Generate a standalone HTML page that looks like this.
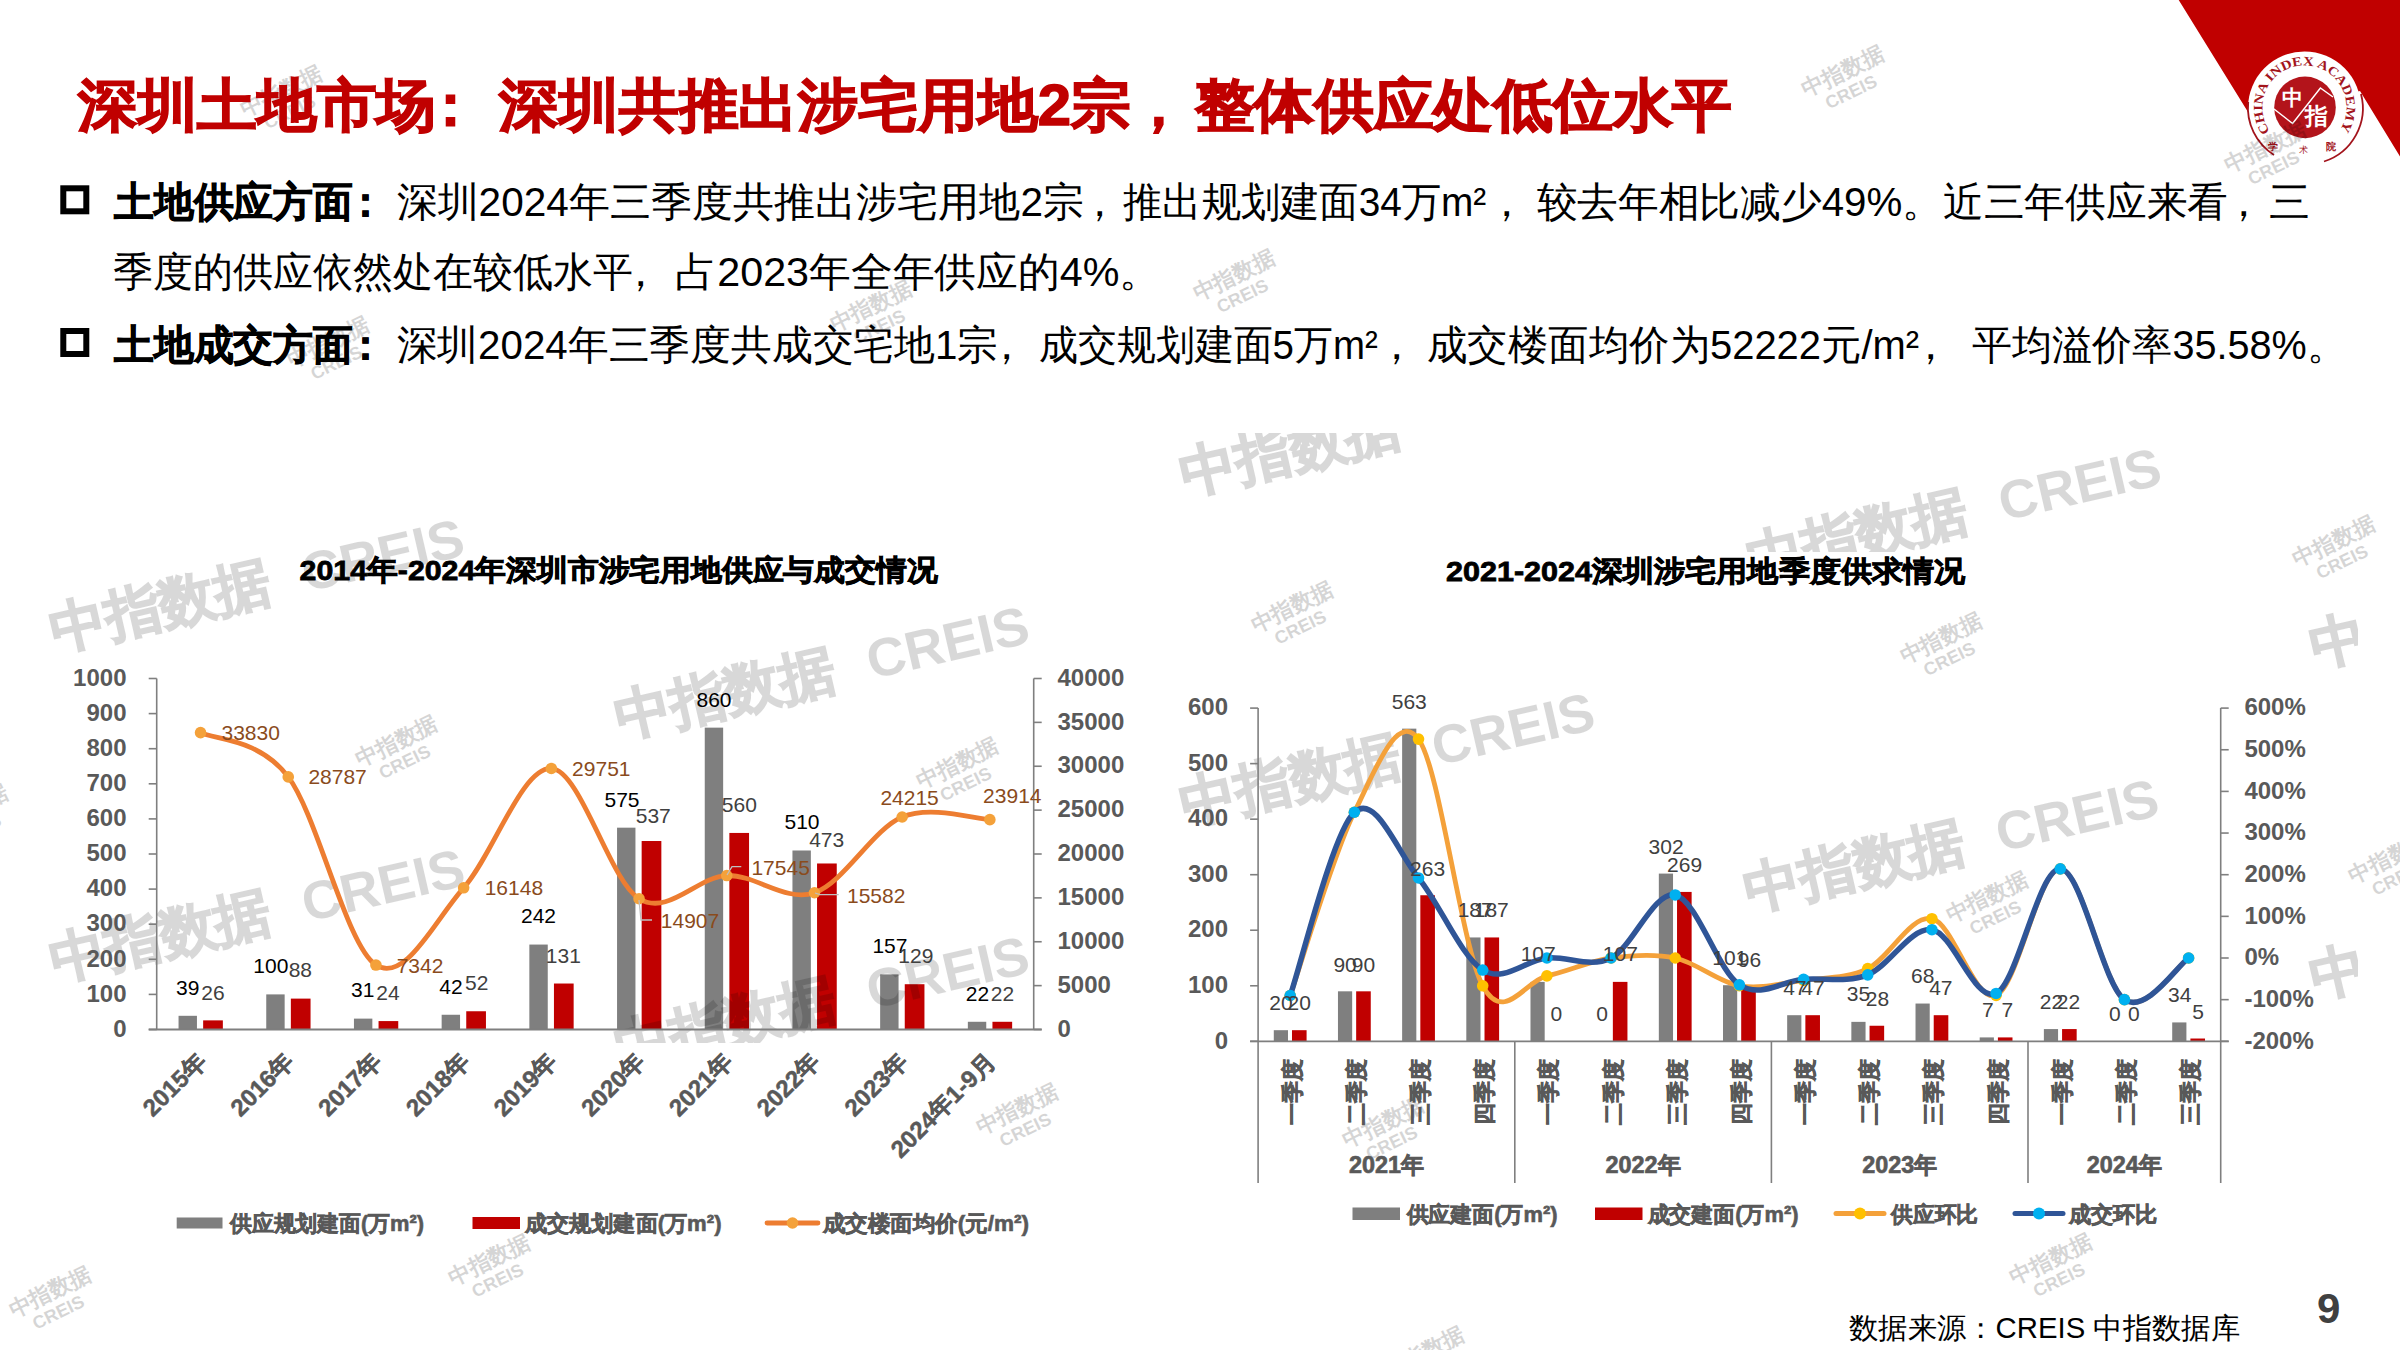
<!DOCTYPE html><html><head><meta charset="utf-8"><style>html,body{margin:0;padding:0;background:#fff;overflow:hidden;width:2400px;height:1350px;}svg{display:block;}</style></head><body><svg width="2400" height="1350" viewBox="0 0 2400 1350" font-family='"Liberation Sans", sans-serif'>
<defs><clipPath id="wmclip"><rect x="0" y="433" width="2358" height="610"/></clipPath></defs>
<rect width="2400" height="1350" fill="#fff"/>
<polygon points="2178.7,0 2400,0 2400,156.5 2360,91 2304,107 2252,118.5" fill="#C00000"/>
<circle cx="2304.5" cy="108" r="56.5" fill="#fff"/>
<path d="M2248.2,102 A56,56 0 0 0 2274,155" fill="none" stroke="#A3141C" stroke-width="1.8"/>
<path d="M2324,161.5 A56,56 0 0 0 2361,94" fill="none" stroke="#A3141C" stroke-width="1.8"/>
<circle cx="2305" cy="107.4" r="30.8" fill="#B3141B"/>
<polyline points="2274,109 2292.6,123.5 2320.4,88 2333,97" fill="none" stroke="#fff" stroke-width="1.5"/>
<text x="2282" y="105" font-size="21" fill="#fff" font-weight="bold">中</text>
<text x="2305" y="124" font-size="23" fill="#fff" font-weight="bold">指</text>
<defs><path id="arcp" d="M2270.1,131.6 A42,42 0 1 1 2338.9,131.6"/></defs>
<text font-size="13" fill="#A3141C" font-family="Liberation Serif" font-weight="bold"><textPath href="#arcp" textLength="181" lengthAdjust="spacingAndGlyphs">CHINA INDEX ACADEMY</textPath></text>
<text x="2268" y="150" font-size="10" fill="#A3141C" font-weight="bold">学</text><text x="2299" y="153" font-size="9" fill="#A3141C">术</text><text x="2326" y="150" font-size="10" fill="#A3141C" font-weight="bold">院</text>
<g transform="translate(245.0,117.3) rotate(-26)" opacity="0.16"><text x="0" y="0" font-size="22" font-weight="bold" fill="#000">中指数据</text><text x="15" y="21" font-size="18" font-weight="bold" fill="#000" font-family="Liberation Sans">CREIS</text></g>
<g transform="translate(1806.4,97.3) rotate(-26)" opacity="0.16"><text x="0" y="0" font-size="22" font-weight="bold" fill="#000">中指数据</text><text x="15" y="21" font-size="18" font-weight="bold" fill="#000" font-family="Liberation Sans">CREIS</text></g>
<g transform="translate(2229.0,173.1) rotate(-26)" opacity="0.16"><text x="0" y="0" font-size="22" font-weight="bold" fill="#000">中指数据</text><text x="15" y="21" font-size="18" font-weight="bold" fill="#000" font-family="Liberation Sans">CREIS</text></g>
<g transform="translate(1197.7,301.3) rotate(-26)" opacity="0.16"><text x="0" y="0" font-size="22" font-weight="bold" fill="#000">中指数据</text><text x="15" y="21" font-size="18" font-weight="bold" fill="#000" font-family="Liberation Sans">CREIS</text></g>
<g transform="translate(834.6,331.9) rotate(-26)" opacity="0.16"><text x="0" y="0" font-size="22" font-weight="bold" fill="#000">中指数据</text><text x="15" y="21" font-size="18" font-weight="bold" fill="#000" font-family="Liberation Sans">CREIS</text></g>
<g transform="translate(291.7,368.0) rotate(-26)" opacity="0.16"><text x="0" y="0" font-size="22" font-weight="bold" fill="#000">中指数据</text><text x="15" y="21" font-size="18" font-weight="bold" fill="#000" font-family="Liberation Sans">CREIS</text></g>
<g transform="translate(1255.6,632.6) rotate(-26)" opacity="0.16"><text x="0" y="0" font-size="22" font-weight="bold" fill="#000">中指数据</text><text x="15" y="21" font-size="18" font-weight="bold" fill="#000" font-family="Liberation Sans">CREIS</text></g>
<g transform="translate(1904.6,664.2) rotate(-26)" opacity="0.16"><text x="0" y="0" font-size="22" font-weight="bold" fill="#000">中指数据</text><text x="15" y="21" font-size="18" font-weight="bold" fill="#000" font-family="Liberation Sans">CREIS</text></g>
<g transform="translate(2297.3,567.2) rotate(-26)" opacity="0.16"><text x="0" y="0" font-size="22" font-weight="bold" fill="#000">中指数据</text><text x="15" y="21" font-size="18" font-weight="bold" fill="#000" font-family="Liberation Sans">CREIS</text></g>
<g transform="translate(360.0,767.3) rotate(-26)" opacity="0.16"><text x="0" y="0" font-size="22" font-weight="bold" fill="#000">中指数据</text><text x="15" y="21" font-size="18" font-weight="bold" fill="#000" font-family="Liberation Sans">CREIS</text></g>
<g transform="translate(921.0,789.4) rotate(-26)" opacity="0.16"><text x="0" y="0" font-size="22" font-weight="bold" fill="#000">中指数据</text><text x="15" y="21" font-size="18" font-weight="bold" fill="#000" font-family="Liberation Sans">CREIS</text></g>
<g transform="translate(1950.6,922.8) rotate(-26)" opacity="0.16"><text x="0" y="0" font-size="22" font-weight="bold" fill="#000">中指数据</text><text x="15" y="21" font-size="18" font-weight="bold" fill="#000" font-family="Liberation Sans">CREIS</text></g>
<g transform="translate(1347.0,1148.3) rotate(-26)" opacity="0.16"><text x="0" y="0" font-size="22" font-weight="bold" fill="#000">中指数据</text><text x="15" y="21" font-size="18" font-weight="bold" fill="#000" font-family="Liberation Sans">CREIS</text></g>
<g transform="translate(980.6,1135.0) rotate(-26)" opacity="0.16"><text x="0" y="0" font-size="22" font-weight="bold" fill="#000">中指数据</text><text x="15" y="21" font-size="18" font-weight="bold" fill="#000" font-family="Liberation Sans">CREIS</text></g>
<g transform="translate(2353.0,883.7) rotate(-26)" opacity="0.16"><text x="0" y="0" font-size="22" font-weight="bold" fill="#000">中指数据</text><text x="15" y="21" font-size="18" font-weight="bold" fill="#000" font-family="Liberation Sans">CREIS</text></g>
<g transform="translate(452.9,1285.7) rotate(-26)" opacity="0.16"><text x="0" y="0" font-size="22" font-weight="bold" fill="#000">中指数据</text><text x="15" y="21" font-size="18" font-weight="bold" fill="#000" font-family="Liberation Sans">CREIS</text></g>
<g transform="translate(13.6,1317.6) rotate(-26)" opacity="0.16"><text x="0" y="0" font-size="22" font-weight="bold" fill="#000">中指数据</text><text x="15" y="21" font-size="18" font-weight="bold" fill="#000" font-family="Liberation Sans">CREIS</text></g>
<g transform="translate(2014.3,1285.3) rotate(-26)" opacity="0.16"><text x="0" y="0" font-size="22" font-weight="bold" fill="#000">中指数据</text><text x="15" y="21" font-size="18" font-weight="bold" fill="#000" font-family="Liberation Sans">CREIS</text></g>
<g transform="translate(1387.0,1378.3) rotate(-26)" opacity="0.16"><text x="0" y="0" font-size="22" font-weight="bold" fill="#000">中指数据</text><text x="15" y="21" font-size="18" font-weight="bold" fill="#000" font-family="Liberation Sans">CREIS</text></g>
<g transform="translate(-69.4,836.3) rotate(-26)" opacity="0.16"><text x="0" y="0" font-size="22" font-weight="bold" fill="#000">中指数据</text><text x="15" y="21" font-size="18" font-weight="bold" fill="#000" font-family="Liberation Sans">CREIS</text></g>
<rect x="178.55" y="1015.81" width="18.4" height="13.69" fill="#7F7F7F"/>
<rect x="203.15" y="1020.37" width="19.7" height="9.13" fill="#C00000"/>
<rect x="266.25" y="994.40" width="18.4" height="35.10" fill="#7F7F7F"/>
<rect x="290.85" y="998.61" width="19.7" height="30.89" fill="#C00000"/>
<rect x="353.95" y="1018.62" width="18.4" height="10.88" fill="#7F7F7F"/>
<rect x="378.55" y="1021.08" width="19.7" height="8.42" fill="#C00000"/>
<rect x="441.65" y="1014.76" width="18.4" height="14.74" fill="#7F7F7F"/>
<rect x="466.25" y="1011.25" width="19.7" height="18.25" fill="#C00000"/>
<rect x="529.35" y="944.56" width="18.4" height="84.94" fill="#7F7F7F"/>
<rect x="553.95" y="983.52" width="19.7" height="45.98" fill="#C00000"/>
<rect x="617.05" y="827.67" width="18.4" height="201.83" fill="#7F7F7F"/>
<rect x="641.65" y="841.01" width="19.7" height="188.49" fill="#C00000"/>
<rect x="704.75" y="727.64" width="18.4" height="301.86" fill="#7F7F7F"/>
<rect x="729.35" y="832.94" width="19.7" height="196.56" fill="#C00000"/>
<rect x="792.45" y="850.49" width="18.4" height="179.01" fill="#7F7F7F"/>
<rect x="817.05" y="863.48" width="19.7" height="166.02" fill="#C00000"/>
<rect x="880.15" y="974.39" width="18.4" height="55.11" fill="#7F7F7F"/>
<rect x="904.75" y="984.22" width="19.7" height="45.28" fill="#C00000"/>
<rect x="967.85" y="1021.78" width="18.4" height="7.72" fill="#7F7F7F"/>
<rect x="992.45" y="1021.78" width="19.7" height="7.72" fill="#C00000"/>
<rect x="1273.79" y="1030.19" width="14.2" height="11.11" fill="#7F7F7F"/>
<rect x="1291.99" y="1030.19" width="14.6" height="11.11" fill="#C00000"/>
<rect x="1337.96" y="991.32" width="14.2" height="49.98" fill="#7F7F7F"/>
<rect x="1356.16" y="991.32" width="14.6" height="49.98" fill="#C00000"/>
<rect x="1402.13" y="728.65" width="14.2" height="312.65" fill="#7F7F7F"/>
<rect x="1420.33" y="895.25" width="14.6" height="146.05" fill="#C00000"/>
<rect x="1466.31" y="937.45" width="14.2" height="103.85" fill="#7F7F7F"/>
<rect x="1484.51" y="937.45" width="14.6" height="103.85" fill="#C00000"/>
<rect x="1530.48" y="981.88" width="14.2" height="59.42" fill="#7F7F7F"/>
<rect x="1612.85" y="981.88" width="14.6" height="59.42" fill="#C00000"/>
<rect x="1658.83" y="873.59" width="14.2" height="167.71" fill="#7F7F7F"/>
<rect x="1677.03" y="891.92" width="14.6" height="149.38" fill="#C00000"/>
<rect x="1723.00" y="985.21" width="14.2" height="56.09" fill="#7F7F7F"/>
<rect x="1741.20" y="987.99" width="14.6" height="53.31" fill="#C00000"/>
<rect x="1787.17" y="1015.20" width="14.2" height="26.10" fill="#7F7F7F"/>
<rect x="1805.37" y="1015.20" width="14.6" height="26.10" fill="#C00000"/>
<rect x="1851.35" y="1021.86" width="14.2" height="19.44" fill="#7F7F7F"/>
<rect x="1869.55" y="1025.75" width="14.6" height="15.55" fill="#C00000"/>
<rect x="1915.52" y="1003.54" width="14.2" height="37.76" fill="#7F7F7F"/>
<rect x="1933.72" y="1015.20" width="14.6" height="26.10" fill="#C00000"/>
<rect x="1979.69" y="1037.41" width="14.2" height="3.89" fill="#7F7F7F"/>
<rect x="1997.89" y="1037.41" width="14.6" height="3.89" fill="#C00000"/>
<rect x="2043.87" y="1029.08" width="14.2" height="12.22" fill="#7F7F7F"/>
<rect x="2062.07" y="1029.08" width="14.6" height="12.22" fill="#C00000"/>
<rect x="2172.21" y="1022.42" width="14.2" height="18.88" fill="#7F7F7F"/>
<rect x="2190.41" y="1038.52" width="14.6" height="2.78" fill="#C00000"/>
<g clip-path="url(#wmclip)"><g transform="translate(55,650) rotate(-13)" opacity="0.15"><text x="0" y="0" font-size="56" font-weight="bold" fill="#000" stroke="#000" stroke-width="1.6">中指数据</text><text x="258" y="0" font-size="54" font-weight="bold" fill="#000" font-family="Liberation Sans">CREIS</text></g></g>
<g clip-path="url(#wmclip)"><g transform="translate(620,737.3) rotate(-13)" opacity="0.15"><text x="0" y="0" font-size="56" font-weight="bold" fill="#000" stroke="#000" stroke-width="1.6">中指数据</text><text x="258" y="0" font-size="54" font-weight="bold" fill="#000" font-family="Liberation Sans">CREIS</text></g></g>
<g clip-path="url(#wmclip)"><g transform="translate(55.4,980) rotate(-13)" opacity="0.15"><text x="0" y="0" font-size="56" font-weight="bold" fill="#000" stroke="#000" stroke-width="1.6">中指数据</text><text x="258" y="0" font-size="54" font-weight="bold" fill="#000" font-family="Liberation Sans">CREIS</text></g></g>
<g clip-path="url(#wmclip)"><g transform="translate(620,1067.2) rotate(-13)" opacity="0.15"><text x="0" y="0" font-size="56" font-weight="bold" fill="#000" stroke="#000" stroke-width="1.6">中指数据</text><text x="258" y="0" font-size="54" font-weight="bold" fill="#000" font-family="Liberation Sans">CREIS</text></g></g>
<g clip-path="url(#wmclip)"><g transform="translate(1185.4,493.7) rotate(-13)" opacity="0.15"><text x="0" y="0" font-size="56" font-weight="bold" fill="#000" stroke="#000" stroke-width="1.6">中指数据</text><text x="258" y="0" font-size="54" font-weight="bold" fill="#000" font-family="Liberation Sans">CREIS</text></g></g>
<g clip-path="url(#wmclip)"><g transform="translate(1185.4,823.7) rotate(-13)" opacity="0.15"><text x="0" y="0" font-size="56" font-weight="bold" fill="#000" stroke="#000" stroke-width="1.6">中指数据</text><text x="258" y="0" font-size="54" font-weight="bold" fill="#000" font-family="Liberation Sans">CREIS</text></g></g>
<g clip-path="url(#wmclip)"><g transform="translate(1752,579) rotate(-13)" opacity="0.15"><text x="0" y="0" font-size="56" font-weight="bold" fill="#000" stroke="#000" stroke-width="1.6">中指数据</text><text x="258" y="0" font-size="54" font-weight="bold" fill="#000" font-family="Liberation Sans">CREIS</text></g></g>
<g clip-path="url(#wmclip)"><g transform="translate(1749.4,910) rotate(-13)" opacity="0.15"><text x="0" y="0" font-size="56" font-weight="bold" fill="#000" stroke="#000" stroke-width="1.6">中指数据</text><text x="258" y="0" font-size="54" font-weight="bold" fill="#000" font-family="Liberation Sans">CREIS</text></g></g>
<g clip-path="url(#wmclip)"><g transform="translate(2314.7,666.3) rotate(-13)" opacity="0.15"><text x="0" y="0" font-size="56" font-weight="bold" fill="#000" stroke="#000" stroke-width="1.6">中指数据</text><text x="258" y="0" font-size="54" font-weight="bold" fill="#000" font-family="Liberation Sans">CREIS</text></g></g>
<g clip-path="url(#wmclip)"><g transform="translate(2314.7,997) rotate(-13)" opacity="0.15"><text x="0" y="0" font-size="56" font-weight="bold" fill="#000" stroke="#000" stroke-width="1.6">中指数据</text><text x="258" y="0" font-size="54" font-weight="bold" fill="#000" font-family="Liberation Sans">CREIS</text></g></g>
<text x="78" y="124.5" font-size="57" font-weight="bold" fill="#C00000" stroke="#C00000" stroke-width="1.4" lengthAdjust="spacingAndGlyphs" textLength="358">深圳土地市场</text>
<text x="421.5" y="124.5" font-size="57" font-weight="bold" fill="#C00000" stroke="#C00000" stroke-width="1.4" lengthAdjust="spacingAndGlyphs">：</text>
<text x="499" y="124.5" font-size="57" font-weight="bold" fill="#C00000" stroke="#C00000" stroke-width="1.4" lengthAdjust="spacingAndGlyphs" textLength="632">深圳共推出涉宅用地2宗</text>
<text x="1130" y="124.5" font-size="57" font-weight="bold" fill="#C00000" stroke="#C00000" stroke-width="1.4" lengthAdjust="spacingAndGlyphs">，</text>
<text x="1194.5" y="124.5" font-size="57" font-weight="bold" fill="#C00000" stroke="#C00000" stroke-width="1.4" lengthAdjust="spacingAndGlyphs" textLength="537.5">整体供应处低位水平</text>
<rect x="63.3" y="188.3" width="23" height="23" fill="none" stroke="#000" stroke-width="6"/>
<rect x="63.3" y="331" width="23" height="23" fill="none" stroke="#000" stroke-width="6"/>
<text x="114.00" y="216" font-size="40.5" fill="#000" font-weight="bold" stroke="#000" stroke-width="0.8" textLength="238.97" lengthAdjust="spacingAndGlyphs">土地供应方面</text>
<text x="345.10" y="216" font-size="40.5" fill="#000" font-weight="bold" stroke="#000" stroke-width="0.8">：</text>
<text x="396.50" y="216" font-size="40.5" fill="#000" textLength="687.63" lengthAdjust="spacingAndGlyphs">深圳2024年三季度共推出涉宅用地2宗</text>
<text x="1079.00" y="216" font-size="40.5" fill="#000">，</text>
<text x="1123.04" y="216" font-size="40.5" fill="#000" textLength="363.24" lengthAdjust="spacingAndGlyphs">推出规划建面34万m²</text>
<text x="1485.50" y="216" font-size="40.5" fill="#000">，</text>
<text x="1536.50" y="216" font-size="40.5" fill="#000" textLength="691.65" lengthAdjust="spacingAndGlyphs">较去年相比减少49%。近三年供应来看</text>
<text x="2222.50" y="216" font-size="40.5" fill="#000">，</text>
<text x="2268.80" y="216" font-size="40.5" fill="#000">三</text>
<text x="113.02" y="286" font-size="40.5" fill="#000" textLength="520.14" lengthAdjust="spacingAndGlyphs">季度的供应依然处在较低水平</text>
<text x="619.50" y="286" font-size="40.5" fill="#000">，</text>
<text x="675.46" y="286" font-size="40.5" fill="#000" textLength="485.82" lengthAdjust="spacingAndGlyphs">占2023年全年供应的4%。</text>
<text x="114.00" y="359" font-size="40.5" fill="#000" font-weight="bold" stroke="#000" stroke-width="0.8" textLength="238.97" lengthAdjust="spacingAndGlyphs">土地成交方面</text>
<text x="345.10" y="359" font-size="40.5" fill="#000" font-weight="bold" stroke="#000" stroke-width="0.8">：</text>
<text x="396.51" y="359" font-size="40.5" fill="#000" textLength="601.61" lengthAdjust="spacingAndGlyphs">深圳2024年三季度共成交宅地1宗</text>
<text x="986.00" y="359" font-size="40.5" fill="#000">，</text>
<text x="1039.10" y="359" font-size="40.5" fill="#000" textLength="338.62" lengthAdjust="spacingAndGlyphs">成交规划建面5万m²</text>
<text x="1376.00" y="359" font-size="40.5" fill="#000">，</text>
<text x="1427.03" y="359" font-size="40.5" fill="#000" textLength="492.07" lengthAdjust="spacingAndGlyphs">成交楼面均价为52222元/m²</text>
<text x="1909.80" y="359" font-size="40.5" fill="#000">，</text>
<text x="1972.02" y="359" font-size="40.5" fill="#000" textLength="374.92" lengthAdjust="spacingAndGlyphs">平均溢价率35.58%。</text>
<text x="299.60" y="580.00" font-size="28.5" fill="#000" font-weight="bold" text-anchor="start" stroke="#000" stroke-width="0.80" textLength="638.00" lengthAdjust="spacingAndGlyphs" >2014年-2024年深圳市涉宅用地供应与成交情况</text>
<line x1="156.7" y1="678.5" x2="156.7" y2="1029.5" stroke="#7F7F7F" stroke-width="1.6"/>
<line x1="1033.7" y1="678.5" x2="1033.7" y2="1029.5" stroke="#7F7F7F" stroke-width="1.6"/>
<line x1="148.7" y1="1029.5" x2="1041.7" y2="1029.5" stroke="#7F7F7F" stroke-width="1.8"/>
<line x1="148.7" y1="1029.50" x2="156.7" y2="1029.50" stroke="#7F7F7F" stroke-width="1.6"/>
<text x="126.50" y="1036.70" font-size="24" fill="#595959" font-weight="bold" text-anchor="end" >0</text>
<line x1="148.7" y1="994.40" x2="156.7" y2="994.40" stroke="#7F7F7F" stroke-width="1.6"/>
<text x="126.50" y="1001.60" font-size="24" fill="#595959" font-weight="bold" text-anchor="end" >100</text>
<line x1="148.7" y1="959.30" x2="156.7" y2="959.30" stroke="#7F7F7F" stroke-width="1.6"/>
<text x="126.50" y="966.50" font-size="24" fill="#595959" font-weight="bold" text-anchor="end" >200</text>
<line x1="148.7" y1="924.20" x2="156.7" y2="924.20" stroke="#7F7F7F" stroke-width="1.6"/>
<text x="126.50" y="931.40" font-size="24" fill="#595959" font-weight="bold" text-anchor="end" >300</text>
<line x1="148.7" y1="889.10" x2="156.7" y2="889.10" stroke="#7F7F7F" stroke-width="1.6"/>
<text x="126.50" y="896.30" font-size="24" fill="#595959" font-weight="bold" text-anchor="end" >400</text>
<line x1="148.7" y1="854.00" x2="156.7" y2="854.00" stroke="#7F7F7F" stroke-width="1.6"/>
<text x="126.50" y="861.20" font-size="24" fill="#595959" font-weight="bold" text-anchor="end" >500</text>
<line x1="148.7" y1="818.90" x2="156.7" y2="818.90" stroke="#7F7F7F" stroke-width="1.6"/>
<text x="126.50" y="826.10" font-size="24" fill="#595959" font-weight="bold" text-anchor="end" >600</text>
<line x1="148.7" y1="783.80" x2="156.7" y2="783.80" stroke="#7F7F7F" stroke-width="1.6"/>
<text x="126.50" y="791.00" font-size="24" fill="#595959" font-weight="bold" text-anchor="end" >700</text>
<line x1="148.7" y1="748.70" x2="156.7" y2="748.70" stroke="#7F7F7F" stroke-width="1.6"/>
<text x="126.50" y="755.90" font-size="24" fill="#595959" font-weight="bold" text-anchor="end" >800</text>
<line x1="148.7" y1="713.60" x2="156.7" y2="713.60" stroke="#7F7F7F" stroke-width="1.6"/>
<text x="126.50" y="720.80" font-size="24" fill="#595959" font-weight="bold" text-anchor="end" >900</text>
<line x1="148.7" y1="678.50" x2="156.7" y2="678.50" stroke="#7F7F7F" stroke-width="1.6"/>
<text x="126.50" y="685.70" font-size="24" fill="#595959" font-weight="bold" text-anchor="end" >1000</text>
<line x1="1033.7" y1="1029.50" x2="1041.7" y2="1029.50" stroke="#7F7F7F" stroke-width="1.6"/>
<text x="1057.50" y="1036.70" font-size="24" fill="#595959" font-weight="bold" text-anchor="start" >0</text>
<line x1="1033.7" y1="985.62" x2="1041.7" y2="985.62" stroke="#7F7F7F" stroke-width="1.6"/>
<text x="1057.50" y="992.83" font-size="24" fill="#595959" font-weight="bold" text-anchor="start" >5000</text>
<line x1="1033.7" y1="941.75" x2="1041.7" y2="941.75" stroke="#7F7F7F" stroke-width="1.6"/>
<text x="1057.50" y="948.95" font-size="24" fill="#595959" font-weight="bold" text-anchor="start" >10000</text>
<line x1="1033.7" y1="897.88" x2="1041.7" y2="897.88" stroke="#7F7F7F" stroke-width="1.6"/>
<text x="1057.50" y="905.08" font-size="24" fill="#595959" font-weight="bold" text-anchor="start" >15000</text>
<line x1="1033.7" y1="854.00" x2="1041.7" y2="854.00" stroke="#7F7F7F" stroke-width="1.6"/>
<text x="1057.50" y="861.20" font-size="24" fill="#595959" font-weight="bold" text-anchor="start" >20000</text>
<line x1="1033.7" y1="810.12" x2="1041.7" y2="810.12" stroke="#7F7F7F" stroke-width="1.6"/>
<text x="1057.50" y="817.33" font-size="24" fill="#595959" font-weight="bold" text-anchor="start" >25000</text>
<line x1="1033.7" y1="766.25" x2="1041.7" y2="766.25" stroke="#7F7F7F" stroke-width="1.6"/>
<text x="1057.50" y="773.45" font-size="24" fill="#595959" font-weight="bold" text-anchor="start" >30000</text>
<line x1="1033.7" y1="722.38" x2="1041.7" y2="722.38" stroke="#7F7F7F" stroke-width="1.6"/>
<text x="1057.50" y="729.58" font-size="24" fill="#595959" font-weight="bold" text-anchor="start" >35000</text>
<line x1="1033.7" y1="678.50" x2="1041.7" y2="678.50" stroke="#7F7F7F" stroke-width="1.6"/>
<text x="1057.50" y="685.70" font-size="24" fill="#595959" font-weight="bold" text-anchor="start" >40000</text>
<path d="M200.55,732.64 C215.17,740.02 259.02,738.16 288.25,776.89 C317.48,815.63 346.72,946.59 375.95,965.07 C405.18,983.56 434.42,920.57 463.65,887.80 C492.88,855.03 522.12,766.62 551.35,768.43 C580.58,770.25 609.82,880.84 639.05,898.69 C668.28,916.54 697.52,876.53 726.75,875.54 C755.98,874.56 785.22,902.52 814.45,892.77 C843.68,883.01 872.92,829.20 902.15,817.01 C931.38,804.83 975.23,819.21 989.85,819.65" fill="none" stroke="#ED7D31" stroke-width="4.8" stroke-linecap="round"/>
<circle cx="200.55" cy="732.64" r="5.8" fill="#F4A13A"/>
<circle cx="288.25" cy="776.89" r="5.8" fill="#F4A13A"/>
<circle cx="375.95" cy="965.07" r="5.8" fill="#F4A13A"/>
<circle cx="463.65" cy="887.80" r="5.8" fill="#F4A13A"/>
<circle cx="551.35" cy="768.43" r="5.8" fill="#F4A13A"/>
<circle cx="639.05" cy="898.69" r="5.8" fill="#F4A13A"/>
<circle cx="726.75" cy="875.54" r="5.8" fill="#F4A13A"/>
<circle cx="814.45" cy="892.77" r="5.8" fill="#F4A13A"/>
<circle cx="902.15" cy="817.01" r="5.8" fill="#F4A13A"/>
<circle cx="989.85" cy="819.65" r="5.8" fill="#F4A13A"/>
<polyline points="639,900 641,920 652,920" fill="none" stroke="#BFBFBF" stroke-width="1.3"/>
<polyline points="727,875 732,866.7 741.3,866.7" fill="none" stroke="#BFBFBF" stroke-width="1.3"/>
<polyline points="815,893 820,894.7 838.7,894.7" fill="none" stroke="#BFBFBF" stroke-width="1.3"/>
<text x="250.70" y="740.30" font-size="21" fill="#8A4B1C" font-weight="normal" text-anchor="middle" >33830</text>
<text x="337.60" y="784.40" font-size="21" fill="#8A4B1C" font-weight="normal" text-anchor="middle" >28787</text>
<text x="420.00" y="973.30" font-size="21" fill="#8A4B1C" font-weight="normal" text-anchor="middle" >7342</text>
<text x="513.90" y="895.20" font-size="21" fill="#8A4B1C" font-weight="normal" text-anchor="middle" >16148</text>
<text x="601.30" y="776.00" font-size="21" fill="#8A4B1C" font-weight="normal" text-anchor="middle" >29751</text>
<text x="690.00" y="928.00" font-size="21" fill="#8A4B1C" font-weight="normal" text-anchor="middle" >14907</text>
<text x="780.65" y="874.70" font-size="21" fill="#8A4B1C" font-weight="normal" text-anchor="middle" >17545</text>
<text x="876.20" y="902.70" font-size="21" fill="#8A4B1C" font-weight="normal" text-anchor="middle" >15582</text>
<text x="909.60" y="804.60" font-size="21" fill="#8A4B1C" font-weight="normal" text-anchor="middle" >24215</text>
<text x="1012.30" y="803.10" font-size="21" fill="#8A4B1C" font-weight="normal" text-anchor="middle" >23914</text>
<text x="187.70" y="994.70" font-size="21" fill="#000" font-weight="normal" text-anchor="middle" >39</text>
<text x="212.90" y="999.70" font-size="21" fill="#404040" font-weight="normal" text-anchor="middle" >26</text>
<text x="270.85" y="973.30" font-size="21" fill="#000" font-weight="normal" text-anchor="middle" >100</text>
<text x="300.35" y="977.00" font-size="21" fill="#404040" font-weight="normal" text-anchor="middle" >88</text>
<text x="362.75" y="997.20" font-size="21" fill="#000" font-weight="normal" text-anchor="middle" >31</text>
<text x="387.95" y="999.70" font-size="21" fill="#404040" font-weight="normal" text-anchor="middle" >24</text>
<text x="450.95" y="993.50" font-size="21" fill="#000" font-weight="normal" text-anchor="middle" >42</text>
<text x="476.75" y="989.70" font-size="21" fill="#404040" font-weight="normal" text-anchor="middle" >52</text>
<text x="538.50" y="923.00" font-size="21" fill="#000" font-weight="normal" text-anchor="middle" >242</text>
<text x="563.35" y="962.70" font-size="21" fill="#404040" font-weight="normal" text-anchor="middle" >131</text>
<text x="622.00" y="806.70" font-size="21" fill="#000" font-weight="normal" text-anchor="middle" >575</text>
<text x="653.30" y="822.70" font-size="21" fill="#404040" font-weight="normal" text-anchor="middle" >537</text>
<text x="714.00" y="706.70" font-size="21" fill="#000" font-weight="normal" text-anchor="middle" >860</text>
<text x="739.35" y="812.00" font-size="21" fill="#404040" font-weight="normal" text-anchor="middle" >560</text>
<text x="802.00" y="829.30" font-size="21" fill="#000" font-weight="normal" text-anchor="middle" >510</text>
<text x="826.65" y="846.70" font-size="21" fill="#404040" font-weight="normal" text-anchor="middle" >473</text>
<text x="889.90" y="952.90" font-size="21" fill="#000" font-weight="normal" text-anchor="middle" >157</text>
<text x="915.85" y="962.80" font-size="21" fill="#404040" font-weight="normal" text-anchor="middle" >129</text>
<text x="977.50" y="1001.00" font-size="21" fill="#000" font-weight="normal" text-anchor="middle" >22</text>
<text x="1002.40" y="1001.00" font-size="21" fill="#404040" font-weight="normal" text-anchor="middle" >22</text>
<text transform="translate(207.55,1063) rotate(-45)" font-size="24" font-weight="bold" fill="#595959" stroke="#595959" stroke-width="0.5" text-anchor="end">2015年</text>
<text transform="translate(295.25,1063) rotate(-45)" font-size="24" font-weight="bold" fill="#595959" stroke="#595959" stroke-width="0.5" text-anchor="end">2016年</text>
<text transform="translate(382.95,1063) rotate(-45)" font-size="24" font-weight="bold" fill="#595959" stroke="#595959" stroke-width="0.5" text-anchor="end">2017年</text>
<text transform="translate(470.65,1063) rotate(-45)" font-size="24" font-weight="bold" fill="#595959" stroke="#595959" stroke-width="0.5" text-anchor="end">2018年</text>
<text transform="translate(558.35,1063) rotate(-45)" font-size="24" font-weight="bold" fill="#595959" stroke="#595959" stroke-width="0.5" text-anchor="end">2019年</text>
<text transform="translate(646.05,1063) rotate(-45)" font-size="24" font-weight="bold" fill="#595959" stroke="#595959" stroke-width="0.5" text-anchor="end">2020年</text>
<text transform="translate(733.75,1063) rotate(-45)" font-size="24" font-weight="bold" fill="#595959" stroke="#595959" stroke-width="0.5" text-anchor="end">2021年</text>
<text transform="translate(821.45,1063) rotate(-45)" font-size="24" font-weight="bold" fill="#595959" stroke="#595959" stroke-width="0.5" text-anchor="end">2022年</text>
<text transform="translate(909.15,1063) rotate(-45)" font-size="24" font-weight="bold" fill="#595959" stroke="#595959" stroke-width="0.5" text-anchor="end">2023年</text>
<text transform="translate(996.85,1063) rotate(-45)" font-size="24" font-weight="bold" fill="#595959" stroke="#595959" stroke-width="0.5" text-anchor="end">2024年1-9月</text>
<rect x="176.7" y="1217.5" width="45.8" height="11" fill="#7F7F7F"/>
<text x="230.00" y="1231.00" font-size="22" fill="#595959" font-weight="bold" text-anchor="start" stroke="#595959" stroke-width="0.62" textLength="194.00" lengthAdjust="spacingAndGlyphs" >供应规划建面(万m²)</text>
<rect x="472.5" y="1217" width="47.5" height="12" fill="#C00000"/>
<text x="525.00" y="1231.00" font-size="22" fill="#595959" font-weight="bold" text-anchor="start" stroke="#595959" stroke-width="0.62" textLength="196.50" lengthAdjust="spacingAndGlyphs" >成交规划建面(万m²)</text>
<line x1="767" y1="1223" x2="818" y2="1223" stroke="#ED7D31" stroke-width="4.8" stroke-linecap="round"/>
<circle cx="792.5" cy="1223" r="5.8" fill="#F4A13A"/>
<text x="822.50" y="1231.00" font-size="22" fill="#595959" font-weight="bold" text-anchor="start" stroke="#595959" stroke-width="0.62" textLength="206.50" lengthAdjust="spacingAndGlyphs" >成交楼面均价(元/m²)</text>
<rect x="1440" y="552" width="535" height="40" fill="#fff"/>
<text x="1446.00" y="581.00" font-size="28.5" fill="#000" font-weight="bold" text-anchor="start" stroke="#000" stroke-width="0.80" textLength="519.00" lengthAdjust="spacingAndGlyphs" >2021-2024深圳涉宅用地季度供求情况</text>
<line x1="1258.1" y1="708.1" x2="1258.1" y2="1183" stroke="#7F7F7F" stroke-width="1.6"/>
<line x1="2220.7" y1="708.1" x2="2220.7" y2="1183" stroke="#7F7F7F" stroke-width="1.6"/>
<line x1="1250.1" y1="1041.3" x2="2228.7" y2="1041.3" stroke="#7F7F7F" stroke-width="1.8"/>
<line x1="1514.8" y1="1041.3" x2="1514.8" y2="1183" stroke="#7F7F7F" stroke-width="1.6"/>
<line x1="1771.4" y1="1041.3" x2="1771.4" y2="1183" stroke="#7F7F7F" stroke-width="1.6"/>
<line x1="2028" y1="1041.3" x2="2028" y2="1183" stroke="#7F7F7F" stroke-width="1.6"/>
<line x1="1250.1" y1="1041.30" x2="1258.1" y2="1041.30" stroke="#7F7F7F" stroke-width="1.6"/>
<text x="1228.00" y="1048.50" font-size="24" fill="#595959" font-weight="bold" text-anchor="end" >0</text>
<line x1="1250.1" y1="985.77" x2="1258.1" y2="985.77" stroke="#7F7F7F" stroke-width="1.6"/>
<text x="1228.00" y="992.97" font-size="24" fill="#595959" font-weight="bold" text-anchor="end" >100</text>
<line x1="1250.1" y1="930.23" x2="1258.1" y2="930.23" stroke="#7F7F7F" stroke-width="1.6"/>
<text x="1228.00" y="937.43" font-size="24" fill="#595959" font-weight="bold" text-anchor="end" >200</text>
<line x1="1250.1" y1="874.70" x2="1258.1" y2="874.70" stroke="#7F7F7F" stroke-width="1.6"/>
<text x="1228.00" y="881.90" font-size="24" fill="#595959" font-weight="bold" text-anchor="end" >300</text>
<line x1="1250.1" y1="819.17" x2="1258.1" y2="819.17" stroke="#7F7F7F" stroke-width="1.6"/>
<text x="1228.00" y="826.37" font-size="24" fill="#595959" font-weight="bold" text-anchor="end" >400</text>
<line x1="1250.1" y1="763.63" x2="1258.1" y2="763.63" stroke="#7F7F7F" stroke-width="1.6"/>
<text x="1228.00" y="770.83" font-size="24" fill="#595959" font-weight="bold" text-anchor="end" >500</text>
<line x1="1250.1" y1="708.10" x2="1258.1" y2="708.10" stroke="#7F7F7F" stroke-width="1.6"/>
<text x="1228.00" y="715.30" font-size="24" fill="#595959" font-weight="bold" text-anchor="end" >600</text>
<line x1="2220.7" y1="1041.30" x2="2228.7" y2="1041.30" stroke="#7F7F7F" stroke-width="1.6"/>
<text x="2244.40" y="1048.50" font-size="24" fill="#595959" font-weight="bold" text-anchor="start" >-200%</text>
<line x1="2220.7" y1="999.65" x2="2228.7" y2="999.65" stroke="#7F7F7F" stroke-width="1.6"/>
<text x="2244.40" y="1006.85" font-size="24" fill="#595959" font-weight="bold" text-anchor="start" >-100%</text>
<line x1="2220.7" y1="958.00" x2="2228.7" y2="958.00" stroke="#7F7F7F" stroke-width="1.6"/>
<text x="2244.40" y="965.20" font-size="24" fill="#595959" font-weight="bold" text-anchor="start" >0%</text>
<line x1="2220.7" y1="916.35" x2="2228.7" y2="916.35" stroke="#7F7F7F" stroke-width="1.6"/>
<text x="2244.40" y="923.55" font-size="24" fill="#595959" font-weight="bold" text-anchor="start" >100%</text>
<line x1="2220.7" y1="874.70" x2="2228.7" y2="874.70" stroke="#7F7F7F" stroke-width="1.6"/>
<text x="2244.40" y="881.90" font-size="24" fill="#595959" font-weight="bold" text-anchor="start" >200%</text>
<line x1="2220.7" y1="833.05" x2="2228.7" y2="833.05" stroke="#7F7F7F" stroke-width="1.6"/>
<text x="2244.40" y="840.25" font-size="24" fill="#595959" font-weight="bold" text-anchor="start" >300%</text>
<line x1="2220.7" y1="791.40" x2="2228.7" y2="791.40" stroke="#7F7F7F" stroke-width="1.6"/>
<text x="2244.40" y="798.60" font-size="24" fill="#595959" font-weight="bold" text-anchor="start" >400%</text>
<line x1="2220.7" y1="749.75" x2="2228.7" y2="749.75" stroke="#7F7F7F" stroke-width="1.6"/>
<text x="2244.40" y="756.95" font-size="24" fill="#595959" font-weight="bold" text-anchor="start" >500%</text>
<line x1="2220.7" y1="708.10" x2="2228.7" y2="708.10" stroke="#7F7F7F" stroke-width="1.6"/>
<text x="2244.40" y="715.30" font-size="24" fill="#595959" font-weight="bold" text-anchor="start" >600%</text>
<path d="M1290.19,995.48 C1300.88,964.94 1332.97,854.96 1354.36,812.23 C1375.75,769.49 1397.14,710.15 1418.53,739.09 C1439.92,768.02 1461.32,946.37 1482.71,985.82 C1504.10,1025.28 1525.49,980.46 1546.88,975.83 C1568.27,971.19 1589.66,960.97 1611.05,958.00 C1632.44,955.03 1653.84,953.38 1675.23,958.00 C1696.62,962.62 1718.01,982.03 1739.40,985.74 C1760.79,989.45 1782.18,983.14 1803.57,980.28 C1824.96,977.43 1846.36,978.88 1867.75,968.62 C1889.14,958.36 1910.53,914.27 1931.92,918.72 C1953.31,923.18 1974.70,1003.67 1996.09,995.36 C2017.48,987.05 2038.88,868.15 2060.27,868.87 C2081.66,869.58 2103.05,984.79 2124.44,999.65 C2145.83,1014.51 2177.92,964.94 2188.61,958.00" fill="none" stroke="#F4A13A" stroke-width="4.8" stroke-linecap="round"/>
<circle cx="1290.19" cy="995.48" r="5.8" fill="#FFC000"/>
<circle cx="1354.36" cy="812.23" r="5.8" fill="#FFC000"/>
<circle cx="1418.53" cy="739.09" r="5.8" fill="#FFC000"/>
<circle cx="1482.71" cy="985.82" r="5.8" fill="#FFC000"/>
<circle cx="1546.88" cy="975.83" r="5.8" fill="#FFC000"/>
<circle cx="1611.05" cy="958.00" r="5.8" fill="#FFC000"/>
<circle cx="1675.23" cy="958.00" r="5.8" fill="#FFC000"/>
<circle cx="1739.40" cy="985.74" r="5.8" fill="#FFC000"/>
<circle cx="1803.57" cy="980.28" r="5.8" fill="#FFC000"/>
<circle cx="1867.75" cy="968.62" r="5.8" fill="#FFC000"/>
<circle cx="1931.92" cy="918.72" r="5.8" fill="#FFC000"/>
<circle cx="1996.09" cy="995.36" r="5.8" fill="#FFC000"/>
<circle cx="2060.27" cy="868.87" r="5.8" fill="#FFC000"/>
<circle cx="2124.44" cy="999.65" r="5.8" fill="#FFC000"/>
<circle cx="2188.61" cy="958.00" r="5.8" fill="#FFC000"/>
<path d="M1290.19,995.48 C1300.88,964.94 1332.97,831.81 1354.36,812.23 C1375.75,792.64 1397.14,851.65 1418.53,877.95 C1439.92,904.25 1461.32,956.69 1482.71,970.04 C1504.10,983.38 1525.49,960.01 1546.88,958.00 C1568.27,955.99 1589.66,968.51 1611.05,958.00 C1632.44,947.49 1653.84,890.48 1675.23,894.94 C1696.62,899.41 1718.01,970.73 1739.40,984.78 C1760.79,998.83 1782.18,980.90 1803.57,979.24 C1824.96,977.58 1846.36,983.08 1867.75,974.83 C1889.14,966.57 1910.53,926.62 1931.92,929.72 C1953.31,932.82 1974.70,1003.59 1996.09,993.44 C2017.48,983.30 2038.88,867.83 2060.27,868.87 C2081.66,869.90 2103.05,984.79 2124.44,999.65 C2145.83,1014.51 2177.92,964.94 2188.61,958.00" fill="none" stroke="#2F5597" stroke-width="5.5" stroke-linecap="round"/>
<circle cx="1290.19" cy="995.48" r="5.8" fill="#00B0F0"/>
<circle cx="1354.36" cy="812.23" r="5.8" fill="#00B0F0"/>
<circle cx="1418.53" cy="877.95" r="5.8" fill="#00B0F0"/>
<circle cx="1482.71" cy="970.04" r="5.8" fill="#00B0F0"/>
<circle cx="1546.88" cy="958.00" r="5.8" fill="#00B0F0"/>
<circle cx="1611.05" cy="958.00" r="5.8" fill="#00B0F0"/>
<circle cx="1675.23" cy="894.94" r="5.8" fill="#00B0F0"/>
<circle cx="1739.40" cy="984.78" r="5.8" fill="#00B0F0"/>
<circle cx="1803.57" cy="979.24" r="5.8" fill="#00B0F0"/>
<circle cx="1867.75" cy="974.83" r="5.8" fill="#00B0F0"/>
<circle cx="1931.92" cy="929.72" r="5.8" fill="#00B0F0"/>
<circle cx="1996.09" cy="993.44" r="5.8" fill="#00B0F0"/>
<circle cx="2060.27" cy="868.87" r="5.8" fill="#00B0F0"/>
<circle cx="2124.44" cy="999.65" r="5.8" fill="#00B0F0"/>
<circle cx="2188.61" cy="958.00" r="5.8" fill="#00B0F0"/>
<text x="1280.89" y="1010.00" font-size="21" fill="#404040" font-weight="normal" text-anchor="middle" >20</text>
<text x="1299.29" y="1010.00" font-size="21" fill="#404040" font-weight="normal" text-anchor="middle" >20</text>
<text x="1345.06" y="972.00" font-size="21" fill="#404040" font-weight="normal" text-anchor="middle" >90</text>
<text x="1363.46" y="972.00" font-size="21" fill="#404040" font-weight="normal" text-anchor="middle" >90</text>
<text x="1409.23" y="709.00" font-size="21" fill="#404040" font-weight="normal" text-anchor="middle" >563</text>
<text x="1427.63" y="876.00" font-size="21" fill="#404040" font-weight="normal" text-anchor="middle" >263</text>
<text x="1475.20" y="917.10" font-size="21" fill="#404040" font-weight="normal" text-anchor="middle" >187</text>
<text x="1491.30" y="917.10" font-size="21" fill="#404040" font-weight="normal" text-anchor="middle" >187</text>
<text x="1538.15" y="961.40" font-size="21" fill="#404040" font-weight="normal" text-anchor="middle" >107</text>
<text x="1556.25" y="1021.00" font-size="21" fill="#404040" font-weight="normal" text-anchor="middle" >0</text>
<text x="1602.00" y="1021.00" font-size="21" fill="#404040" font-weight="normal" text-anchor="middle" >0</text>
<text x="1620.35" y="961.40" font-size="21" fill="#404040" font-weight="normal" text-anchor="middle" >107</text>
<text x="1666.10" y="853.70" font-size="21" fill="#404040" font-weight="normal" text-anchor="middle" >302</text>
<text x="1684.60" y="871.90" font-size="21" fill="#404040" font-weight="normal" text-anchor="middle" >269</text>
<text x="1729.80" y="964.80" font-size="21" fill="#404040" font-weight="normal" text-anchor="middle" >101</text>
<text x="1749.40" y="967.40" font-size="21" fill="#404040" font-weight="normal" text-anchor="middle" >96</text>
<text x="1795.00" y="994.80" font-size="21" fill="#404040" font-weight="normal" text-anchor="middle" >47</text>
<text x="1812.90" y="994.80" font-size="21" fill="#404040" font-weight="normal" text-anchor="middle" >47</text>
<text x="1858.40" y="1001.00" font-size="21" fill="#404040" font-weight="normal" text-anchor="middle" >35</text>
<text x="1877.45" y="1005.70" font-size="21" fill="#404040" font-weight="normal" text-anchor="middle" >28</text>
<text x="1922.80" y="983.10" font-size="21" fill="#404040" font-weight="normal" text-anchor="middle" >68</text>
<text x="1940.85" y="994.80" font-size="21" fill="#404040" font-weight="normal" text-anchor="middle" >47</text>
<text x="1987.95" y="1016.60" font-size="21" fill="#404040" font-weight="normal" text-anchor="middle" >7</text>
<text x="2007.35" y="1016.60" font-size="21" fill="#404040" font-weight="normal" text-anchor="middle" >7</text>
<text x="2051.50" y="1008.80" font-size="21" fill="#404040" font-weight="normal" text-anchor="middle" >22</text>
<text x="2068.55" y="1008.80" font-size="21" fill="#404040" font-weight="normal" text-anchor="middle" >22</text>
<text x="2114.85" y="1021.20" font-size="21" fill="#404040" font-weight="normal" text-anchor="middle" >0</text>
<text x="2133.90" y="1021.20" font-size="21" fill="#404040" font-weight="normal" text-anchor="middle" >0</text>
<text x="2179.80" y="1001.80" font-size="21" fill="#404040" font-weight="normal" text-anchor="middle" >34</text>
<text x="2198.05" y="1018.90" font-size="21" fill="#404040" font-weight="normal" text-anchor="middle" >5</text>
<text transform="translate(1299.69,1058.5) rotate(-90)" font-size="22" font-weight="bold" fill="#595959" stroke="#595959" stroke-width="0.6" text-anchor="end">一季度</text>
<text transform="translate(1363.86,1058.5) rotate(-90)" font-size="22" font-weight="bold" fill="#595959" stroke="#595959" stroke-width="0.6" text-anchor="end">二季度</text>
<text transform="translate(1428.03,1058.5) rotate(-90)" font-size="22" font-weight="bold" fill="#595959" stroke="#595959" stroke-width="0.6" text-anchor="end">三季度</text>
<text transform="translate(1492.21,1058.5) rotate(-90)" font-size="22" font-weight="bold" fill="#595959" stroke="#595959" stroke-width="0.6" text-anchor="end">四季度</text>
<text transform="translate(1556.38,1058.5) rotate(-90)" font-size="22" font-weight="bold" fill="#595959" stroke="#595959" stroke-width="0.6" text-anchor="end">一季度</text>
<text transform="translate(1620.55,1058.5) rotate(-90)" font-size="22" font-weight="bold" fill="#595959" stroke="#595959" stroke-width="0.6" text-anchor="end">二季度</text>
<text transform="translate(1684.73,1058.5) rotate(-90)" font-size="22" font-weight="bold" fill="#595959" stroke="#595959" stroke-width="0.6" text-anchor="end">三季度</text>
<text transform="translate(1748.90,1058.5) rotate(-90)" font-size="22" font-weight="bold" fill="#595959" stroke="#595959" stroke-width="0.6" text-anchor="end">四季度</text>
<text transform="translate(1813.07,1058.5) rotate(-90)" font-size="22" font-weight="bold" fill="#595959" stroke="#595959" stroke-width="0.6" text-anchor="end">一季度</text>
<text transform="translate(1877.25,1058.5) rotate(-90)" font-size="22" font-weight="bold" fill="#595959" stroke="#595959" stroke-width="0.6" text-anchor="end">二季度</text>
<text transform="translate(1941.42,1058.5) rotate(-90)" font-size="22" font-weight="bold" fill="#595959" stroke="#595959" stroke-width="0.6" text-anchor="end">三季度</text>
<text transform="translate(2005.59,1058.5) rotate(-90)" font-size="22" font-weight="bold" fill="#595959" stroke="#595959" stroke-width="0.6" text-anchor="end">四季度</text>
<text transform="translate(2069.77,1058.5) rotate(-90)" font-size="22" font-weight="bold" fill="#595959" stroke="#595959" stroke-width="0.6" text-anchor="end">一季度</text>
<text transform="translate(2133.94,1058.5) rotate(-90)" font-size="22" font-weight="bold" fill="#595959" stroke="#595959" stroke-width="0.6" text-anchor="end">二季度</text>
<text transform="translate(2198.11,1058.5) rotate(-90)" font-size="22" font-weight="bold" fill="#595959" stroke="#595959" stroke-width="0.6" text-anchor="end">三季度</text>
<text x="1386.40" y="1172.50" font-size="23.4" fill="#595959" font-weight="bold" text-anchor="middle" stroke="#595959" stroke-width="0.66" >2021年</text>
<text x="1643.10" y="1172.50" font-size="23.4" fill="#595959" font-weight="bold" text-anchor="middle" stroke="#595959" stroke-width="0.66" >2022年</text>
<text x="1899.70" y="1172.50" font-size="23.4" fill="#595959" font-weight="bold" text-anchor="middle" stroke="#595959" stroke-width="0.66" >2023年</text>
<text x="2124.30" y="1172.50" font-size="23.4" fill="#595959" font-weight="bold" text-anchor="middle" stroke="#595959" stroke-width="0.66" >2024年</text>
<rect x="1352.5" y="1207.5" width="47.5" height="12.5" fill="#7F7F7F"/>
<text x="1406.50" y="1222.00" font-size="22" fill="#595959" font-weight="bold" text-anchor="start" stroke="#595959" stroke-width="0.62" textLength="151.00" lengthAdjust="spacingAndGlyphs" >供应建面(万m²)</text>
<rect x="1595" y="1207.5" width="47.5" height="12.5" fill="#C00000"/>
<text x="1647.50" y="1222.00" font-size="22" fill="#595959" font-weight="bold" text-anchor="start" stroke="#595959" stroke-width="0.62" textLength="151.00" lengthAdjust="spacingAndGlyphs" >成交建面(万m²)</text>
<line x1="1836" y1="1213.4" x2="1884" y2="1213.4" stroke="#F4A13A" stroke-width="5" stroke-linecap="round"/>
<circle cx="1860" cy="1213.4" r="6" fill="#FFC000"/>
<text x="1891.00" y="1222.00" font-size="22" fill="#595959" font-weight="bold" text-anchor="start" stroke="#595959" stroke-width="0.62" textLength="87.00" lengthAdjust="spacingAndGlyphs" >供应环比</text>
<line x1="2015" y1="1213.4" x2="2063" y2="1213.4" stroke="#2F5597" stroke-width="5" stroke-linecap="round"/>
<circle cx="2039" cy="1213.4" r="6" fill="#00B0F0"/>
<text x="2069.00" y="1222.00" font-size="22" fill="#595959" font-weight="bold" text-anchor="start" stroke="#595959" stroke-width="0.62" textLength="88.50" lengthAdjust="spacingAndGlyphs" >成交环比</text>
<text x="1849.00" y="1338.00" font-size="29" fill="#000" font-weight="normal" text-anchor="start" textLength="391.00" lengthAdjust="spacingAndGlyphs" >数据来源：CREIS 中指数据库</text>
<text x="2317.00" y="1322.50" font-size="42" fill="#404040" font-weight="bold" text-anchor="start" >9</text>
</svg></body></html>
